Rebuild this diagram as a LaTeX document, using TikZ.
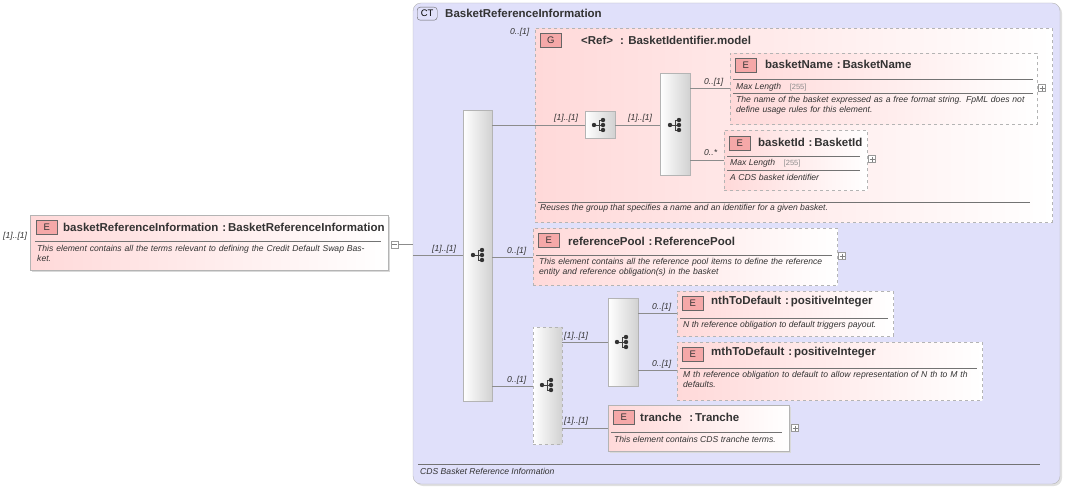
\documentclass[tikz,border=0pt]{standalone}
\usepackage{fontspec}
\setmainfont{Liberation Sans}
\usetikzlibrary{calc}
\definecolor{ctfill}{HTML}{E0E0FA}
\definecolor{pinkf}{HTML}{FFD9D9}
\definecolor{bord}{HTML}{B4B4B4}
\definecolor{badge}{HTML}{F5A8A8}
\definecolor{ink}{HTML}{333333}
\tikzset{
  box/.style={anchor=north west,draw=bord,line width=0.8pt,inner sep=0pt,
    left color=pinkf,right color=white},
  dbox/.style={box,dashed},
  seq/.style={anchor=north west,draw=bord,inner sep=0pt,left color=white,right color=black!18,minimum width=29pt},
  title/.style={anchor=west,font=\fontsize{11.5}{13}\selectfont\bfseries,text=ink,inner sep=0pt},
  desc/.style={anchor=north west,font=\fontsize{8.6}{10.5}\selectfont\itshape,text=ink,inner sep=0pt,align=left},
  card/.style={anchor=west,font=\fontsize{8.6}{10}\selectfont\itshape,text=ink,inner sep=0pt},
  bdg/.style={anchor=north west,draw=black!60,fill=badge,minimum width=21pt,minimum height=14pt,inner sep=0pt,font=\fontsize{9.5}{10}\selectfont,text=ink},
  sep/.style={draw=black!55,line width=0.5pt},
  con/.style={draw=black!45,line width=0.6pt},
  pm/.style={draw=black!40,fill=white,minimum size=7pt,inner sep=0pt,line width=0.4pt},
}
\newcommand{\seqicon}[1]{%
  \draw[black!75,line width=0.8pt] ($(#1)+(-5,0)$) -- ($(#1)+(0,0)$) ($(#1)+(0,-5)$) -- ($(#1)+(0,5)$)
    ($(#1)+(0,-5)$) -- ($(#1)+(4,-5)$) ($(#1)+(0,5)$) -- ($(#1)+(4,5)$) ($(#1)+(0,0)$) -- ($(#1)+(4,0)$);
  \fill[black!80] ($(#1)+(-5,0)$) circle (2.2pt) ($(#1)+(4,-5)$) circle (2.2pt) ($(#1)+(4,0)$) circle (2.2pt) ($(#1)+(4,5)$) circle (2.2pt);}
\newcommand{\plusbox}[2]{\node[pm] at (#1,#2) {};\draw[black!50,line width=0.4pt] (#1-2.5,#2) -- (#1+2.5,#2) (#1,#2-2.5) -- (#1,#2+2.5);}
\begin{document}
\begin{tikzpicture}[x=1pt,y=-1pt]
\useasboundingbox (0,0) rectangle (1065,487);
% complex type container
\fill[black!12,rounded corners=8pt] (415,5) rectangle (1062,486);
\draw[draw=bord,fill=ctfill,rounded corners=8pt] (413,3) rectangle (1060,484);
\node[anchor=north west,draw=black!60,fill=ctfill,rounded corners=3pt,minimum width=20pt,minimum height=13pt,inner sep=0pt,font=\fontsize{9.5}{10}\selectfont] (ct) at (417,7) {CT};
\node[title] at (445,13.5) {BasketReferenceInformation};
\draw[sep] (418,464) -- (1040,464);
\node[card] at (420,471) {CDS Basket Reference Information};

% root element
\fill[black!15] (32,217) rectangle (390,272);
\node[box,minimum width=358pt,minimum height=55pt] (root) at (30,215) {};
\node[bdg] at (36,220) {E};
\node[title] at (63,227) {basketReferenceInformation\,\,:\,BasketReferenceInformation};
\draw[sep] (35,241) -- (381,241);
\node[desc,text width=335pt] at (37,245) {This element contains all the terms relevant to defining the Credit Default Swap Basket.};
\node[card] at (3,236) {[1]..[1]};
\node[pm] (mn) at (394.5,244.5) {};
\draw[black!50,line width=0.4pt] (392,244.5) -- (397,244.5);
\coordinate (j0) at (413,244.5);
\draw[con] (mn.east) -- (j0);

% main sequence
\node[seq,minimum height=291pt] (s1) at (463,110) {};
\seqicon{478,255}
\draw[con] (413,255) -- (s1.west |- 0,255);
\node[card] at (432,249) {[1]..[1]};

% group
\node[dbox,minimum width=517pt,minimum height=194pt] (grp) at (535,28) {};
\node[card] at (510,32) {0..[1]};
\node[bdg] at (540,33) {G};
\node[title] at (581,40) {<Ref>};
\node[title] at (620,40) {: BasketIdentifier.model};
\draw[sep] (538,202) -- (1030,202);
\node[desc] at (540,204) {Reuses the group that specifies a name and an identifier for a given basket.};
\draw[con] (s1.east |- 0,125) -- (grp.west |- 0,125);

\node[seq,minimum width=30pt,minimum height=27pt] (s2) at (585,111) {};
\seqicon{599,125}
\draw[con] (grp.west |- 0,125) -- (s2.west |- 0,125);
\node[card] at (554,118) {[1]..[1]};
\node[seq,minimum width=30pt,minimum height=102pt] (s3) at (660,73) {};
\seqicon{675,125}
\draw[con] (s2.east |- 0,125) -- (s3.west |- 0,125);
\node[card] at (628,118) {[1]..[1]};

% basketName
\node[dbox,minimum width=307pt,minimum height=71pt] (bn) at (730,53) {};
\node[bdg] at (735,58) {E};
\node[title] at (765,64) {basketName\,\,:\,BasketName};
\draw[sep] (733,79) -- (1033,79);
\node[card] at (736,87) {Max Length\quad\textcolor{black!45}{\upshape\fontsize{7.5}{9}\selectfont [255]}};
\draw[sep] (733,93) -- (1033,93);
\node[desc,text width=296pt] at (736,96) {The name of the basket expressed as a free format string. FpML does not define usage rules for this element.};
\plusbox{1042}{88}
\draw[con] (s3.east |- 0,88) -- (bn.west |- 0,88);
\node[card] at (704,82) {0..[1]};

% basketId
\node[dbox,minimum width=143pt,minimum height=60pt] (bi) at (724,130) {};
\node[bdg] at (729,136) {E};
\node[title] at (758,142) {basketId\,\,:\,BasketId};
\draw[sep] (727,156) -- (860,156);
\node[card] at (730,163) {Max Length\quad\textcolor{black!45}{\upshape\fontsize{7.5}{9}\selectfont [255]}};
\draw[sep] (727,170) -- (860,170);
\node[card] at (730,177) {A CDS basket identifier};
\plusbox{872}{159}
\draw[con] (s3.east |- 0,160) -- (bi.west |- 0,160);
\node[card] at (704,153) {0..*};

% referencePool
\node[dbox,minimum width=304pt,minimum height=57pt] (rp) at (533,228) {};
\node[bdg] at (538,233) {E};
\node[title] at (568,241) {referencePool\,\,:\,ReferencePool};
\draw[sep] (536,255) -- (832,255);
\node[desc,text width=292pt] at (539,258) {This element contains all the reference pool items to define the reference entity and reference obligation(s) in the basket};
\plusbox{842}{256}
\draw[con] (s1.east |- 0,257) -- (rp.west |- 0,257);
\node[card] at (507,251) {0..[1]};

% inner sequence
\node[seq,dashed,minimum height=117pt] (s4) at (533,327) {};
\seqicon{547,385}
\draw[con] (s1.east |- 0,386) -- (s4.west |- 0,386);
\node[card] at (507,380) {0..[1]};
\node[seq,minimum width=30pt,minimum height=88pt] (s5) at (608,298) {};
\seqicon{622,342}
\draw[con] (s4.east |- 0,342) -- (s5.west |- 0,342);
\node[card] at (564,336) {[1]..[1]};

% nthToDefault
\node[dbox,minimum width=216pt,minimum height=45pt] (nt) at (677,291) {};
\node[bdg] at (682,296) {E};
\node[title] at (711,302) {nthToDefault\,\,:\,positiveInteger};
\draw[sep] (680,318) -- (888,318);
\node[card] at (683,325) {N th reference obligation to default triggers payout.};
\draw[con] (s5.east |- 0,313) -- (nt.west |- 0,313);
\node[card] at (652,307) {0..[1]};

% mthToDefault
\node[dbox,minimum width=305pt,minimum height=58pt] (mt) at (677,342) {};
\node[bdg] at (682,347) {E};
\node[title] at (711,353) {mthToDefault\,\,:\,positiveInteger};
\draw[sep] (680,368) -- (977,368);
\node[desc,text width=296pt] at (683,371) {M th reference obligation to default to allow representation of N th to M th defaults.};
\draw[con] (s5.east |- 0,370) -- (mt.west |- 0,370);
\node[card] at (652,364) {0..[1]};

% tranche
\fill[black!15] (610,407) rectangle (791,453);
\node[box,minimum width=181pt,minimum height=46pt] (tr) at (608,405) {};
\node[bdg] at (613,410) {E};
\node[title] at (640,417) {tranche\,\,\,\,:\,Tranche};
\draw[sep] (611,432) -- (782,432);
\node[card] at (614,439) {This element contains CDS tranche terms.};
\plusbox{795}{428}
\draw[con] (s4.east |- 0,428) -- (tr.west |- 0,428);
\node[card] at (564,421) {[1]..[1]};
\end{tikzpicture}
\end{document}
